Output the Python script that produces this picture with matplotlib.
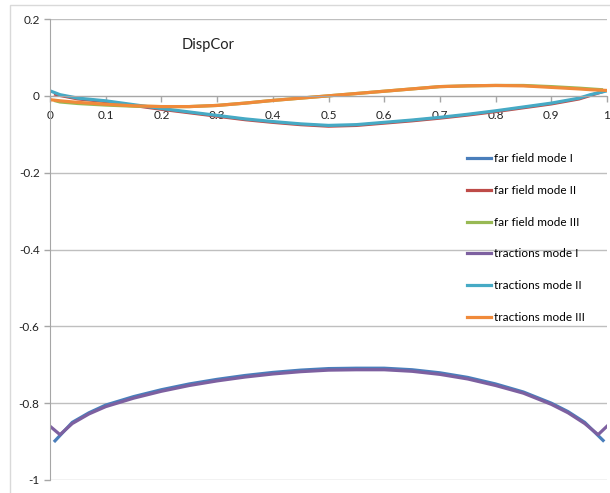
import numpy as np
import matplotlib
matplotlib.use('Agg')
import matplotlib.pyplot as plt
from matplotlib.patches import Rectangle
from matplotlib.ticker import FixedLocator, FixedFormatter

plt.rcParams['font.family'] = ['Lato', 'DejaVu Sans']

# data
x_ff1 = [0.009, 0.04, 0.07, 0.1, 0.15, 0.2, 0.25, 0.3, 0.35, 0.4, 0.45, 0.5, 0.55,
         0.6, 0.65, 0.7, 0.75, 0.8, 0.85, 0.9, 0.93, 0.96, 0.993]
ff_mode1 = [-0.898, -0.850, -0.825, -0.805, -0.783, -0.765, -0.750, -0.738, -0.728,
            -0.720, -0.714, -0.710, -0.709, -0.709, -0.713, -0.721, -0.733, -0.750,
            -0.771, -0.800, -0.822, -0.850, -0.897]

x_tr1 = [0.0, 0.018, 0.04, 0.07, 0.1, 0.15, 0.2, 0.25, 0.3, 0.35, 0.4, 0.45, 0.5, 0.55,
         0.6, 0.65, 0.7, 0.75, 0.8, 0.85, 0.9, 0.93, 0.96, 0.984, 1.0]
tr_mode1 = [-0.860, -0.882, -0.853, -0.828, -0.809, -0.787, -0.769, -0.754, -0.742,
            -0.732, -0.724, -0.718, -0.714, -0.713, -0.713, -0.717, -0.725, -0.737,
            -0.754, -0.774, -0.803, -0.825, -0.853, -0.882, -0.860]

x_up = [0.0, 0.018, 0.05, 0.1, 0.15, 0.2, 0.25, 0.3, 0.35, 0.4, 0.45, 0.5, 0.55,
        0.6, 0.65, 0.7, 0.75, 0.8, 0.85, 0.9, 0.95, 0.97, 1.0]
tr_mode2 = [0.013, 0.003, -0.006, -0.013, -0.023, -0.033, -0.042, -0.051, -0.060,
            -0.067, -0.073, -0.077, -0.075, -0.069, -0.063, -0.056, -0.048, -0.039,
            -0.029, -0.019, -0.006, 0.003, 0.013]
tr_mode3 = [-0.010, -0.013, -0.017, -0.022, -0.026, -0.028, -0.028, -0.025, -0.019,
            -0.012, -0.006, 0.000, 0.006, 0.012, 0.018, 0.024, 0.026, 0.027, 0.026,
            0.022, 0.018, 0.016, 0.014]

x_ff = [0.01, 0.018, 0.05, 0.1, 0.15, 0.2, 0.25, 0.3, 0.35, 0.4, 0.45, 0.5, 0.55,
        0.6, 0.65, 0.7, 0.75, 0.8, 0.85, 0.9, 0.95, 0.97, 0.99]
ff_mode2 = [0.004, 0.001, -0.008, -0.015, -0.025, -0.035, -0.044, -0.053, -0.062,
            -0.069, -0.075, -0.079, -0.077, -0.071, -0.065, -0.058, -0.050, -0.041,
            -0.031, -0.021, -0.008, 0.001, 0.010]
ff_mode3 = [-0.013, -0.016, -0.020, -0.024, -0.027, -0.028, -0.028, -0.025, -0.019,
            -0.012, -0.006, 0.000, 0.006, 0.012, 0.018, 0.024, 0.026, 0.027, 0.027,
            0.024, 0.020, 0.018, 0.016]

series_names = ['far field mode I', 'far field mode II', 'far field mode III',
                'tractions mode I', 'tractions mode II', 'tractions mode III']
series_colors = ['#4A7EBB', '#BE4B48', '#98B954', '#7D60A0', '#46AAC5', '#F08A3A']

xticks = [0, 0.1, 0.2, 0.3, 0.4, 0.5, 0.6, 0.7, 0.8, 0.9, 1]
xtick_labels = ['0', '0.1', '0.2', '0.3', '0.4', '0.5', '0.6', '0.7', '0.8', '0.9', '1']
yticks = [-1, -0.8, -0.6, -0.4, -0.2, 0, 0.2]
ytick_labels = ['-1', '-0.8', '-0.6', '-0.4', '-0.2', '0', '0.2']

#plot
fig = plt.figure(figsize=(6.1, 4.93), dpi=100)
ax = fig.add_axes([50/610, 1 - 480/493, 557/610, 461/493])

xs = [x_ff1, x_ff, x_ff, x_tr1, x_up, x_up]
ys = [ff_mode1, ff_mode2, ff_mode3, tr_mode1, tr_mode2, tr_mode3]
for xx, yy, name, col in zip(xs, ys, series_names, series_colors):
    ax.plot(xx, yy, color=col, lw=2.3, label=name, solid_joinstyle='round')

ax.set_xlim(0, 1)
ax.set_ylim(-1, 0.2)
ax.xaxis.set_major_locator(FixedLocator(xticks))
ax.xaxis.set_major_formatter(FixedFormatter(xtick_labels))
ax.yaxis.set_major_locator(FixedLocator(yticks))
ax.yaxis.set_major_formatter(FixedFormatter(ytick_labels))

ax.yaxis.grid(True, color='#BFBFBF', lw=1)
ax.set_axisbelow(True)
for s in ['top', 'right']:
    ax.spines[s].set_visible(False)
ax.spines['bottom'].set_position(('data', 0))
ax.spines['bottom'].set_color('#A6A6A6')
ax.spines['left'].set_color('#A6A6A6')
ax.tick_params(axis='both', colors='#A6A6A6', length=4, width=1,
               labelcolor='#222222', labelsize=8.5)
ax.tick_params(axis='x', pad=6)

ax.text(0.284, 0.133, 'DispCor', ha='center', va='center', fontsize=10.5,
        color='#222222')

ax.legend(loc='center left', bbox_to_anchor=(467/610, 1 - 238/493),
          bbox_transform=fig.transFigure, frameon=False, borderpad=0,
          borderaxespad=0, handlelength=2.0, handletextpad=0.25,
          labelspacing=1.75, fontsize=8.5)

# outer chart frame
fig.patches.append(Rectangle((10/610, -0.1), 1.0, 1.1 - 5/493, transform=fig.transFigure,
                             fill=False, edgecolor='#D9D9D9', lw=1))

fig.savefig('out.png', dpi=100)
